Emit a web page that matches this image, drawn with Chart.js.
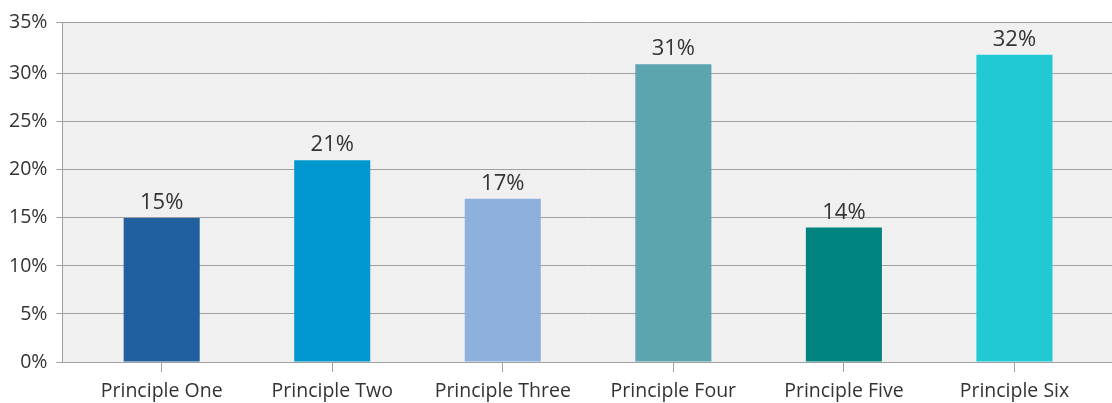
<!DOCTYPE html>
<html>
<head>
<meta charset="utf-8">
<script src="https://cdn.jsdelivr.net/npm/chart.js@4/dist/chart.umd.min.js"></script>
<style>
  html, body { margin: 0; padding: 0; background: #ffffff; }
  #wrap { width: 1112px; height: 403px; }
</style>
</head>
<body>
<div id="wrap"><canvas id="c" width="1112" height="403"></canvas></div>
<script>
// ---- data ----
const categories = ["Principle One", "Principle Two", "Principle Three", "Principle Four", "Principle Five", "Principle Six"];
const values = [15, 21, 17, 31, 14, 32];
const barColors = ["#20609F", "#0098CF", "#8DB1DC", "#5DA5AE", "#00847F", "#20C9D4"];
const yTickValues = [0, 5, 10, 15, 20, 25, 30, 35];
const yTickLabels = ["0%", "5%", "10%", "15%", "20%", "25%", "30%", "35%"];

const FONT = "'Open Sans', 'Noto Sans', sans-serif";
const TEXT = "#333333";
const GRID = "#a0a0a0";

const plotBg = {
  id: 'plotBg',
  beforeDraw(chart) {
    const { ctx, chartArea: a } = chart;
    ctx.save();
    ctx.fillStyle = '#f0f0f0';
    ctx.fillRect(a.left, a.top, a.right - a.left, a.bottom - a.top);
    ctx.restore();
  }
};

const valueLabels = {
  id: 'valueLabels',
  afterDatasetsDraw(chart) {
    const { ctx } = chart;
    const meta = chart.getDatasetMeta(0);
    ctx.save();
    ctx.font = "22px " + FONT;
    ctx.fillStyle = TEXT;
    ctx.textAlign = 'center';
    ctx.textBaseline = 'alphabetic';
    meta.data.forEach((bar, i) => {
      ctx.fillText(values[i] + '%', bar.x, bar.y - 9);
    });
    ctx.restore();
  }
};

const yMaxTick = 35.4;

new Chart(document.getElementById('c'), {
  type: 'bar',
  data: {
    datasets: [{
      data: categories.map((c, i) => ({ x: i, y: values[i] })),
      backgroundColor: barColors,
      borderWidth: 0,
      barPercentage: 0.446,
      categoryPercentage: 1.0
    }]
  },
  options: {
    responsive: false,
    animation: false,
    devicePixelRatio: 1,
    layout: { padding: { top: 22, left: 0, right: 0, bottom: 0 } },
    plugins: { legend: { display: false }, tooltip: { enabled: false } },
    scales: {
      x: {
        type: 'linear',
        offset: false,
        min: -0.582,
        max: 5.572,
        afterBuildTicks(scale) {
          scale.ticks = categories.map((c, i) => ({ value: i }));
        },
        afterFit(scale) { scale.height = 41; },
        ticks: {
          autoSkip: false,
          maxRotation: 0,
          color: TEXT,
          font: { family: FONT, size: 19.5 },
          padding: 8,
          callback: (v) => categories[v]
        },
        grid: { offset: false, drawOnChartArea: false, drawTicks: true, tickLength: 10, color: GRID },
        border: { display: true, color: GRID, width: 1 }
      },
      y: {
        min: 0,
        max: yMaxTick,
        afterBuildTicks(scale) {
          scale.ticks = yTickValues.map((v, i) => ({ value: i === yTickValues.length - 1 ? yMaxTick : v }));
        },
        ticks: {
          color: TEXT,
          font: { family: FONT, size: 19.5 },
          padding: 9,
          callback: (v, i) => yTickLabels[i]
        },
        grid: { color: GRID, tickLength: 6, drawTicks: true },
        border: { display: true, color: GRID, width: 1 }
      }
    }
  },
  plugins: [plotBg, valueLabels]
});
</script>
</body>
</html>
